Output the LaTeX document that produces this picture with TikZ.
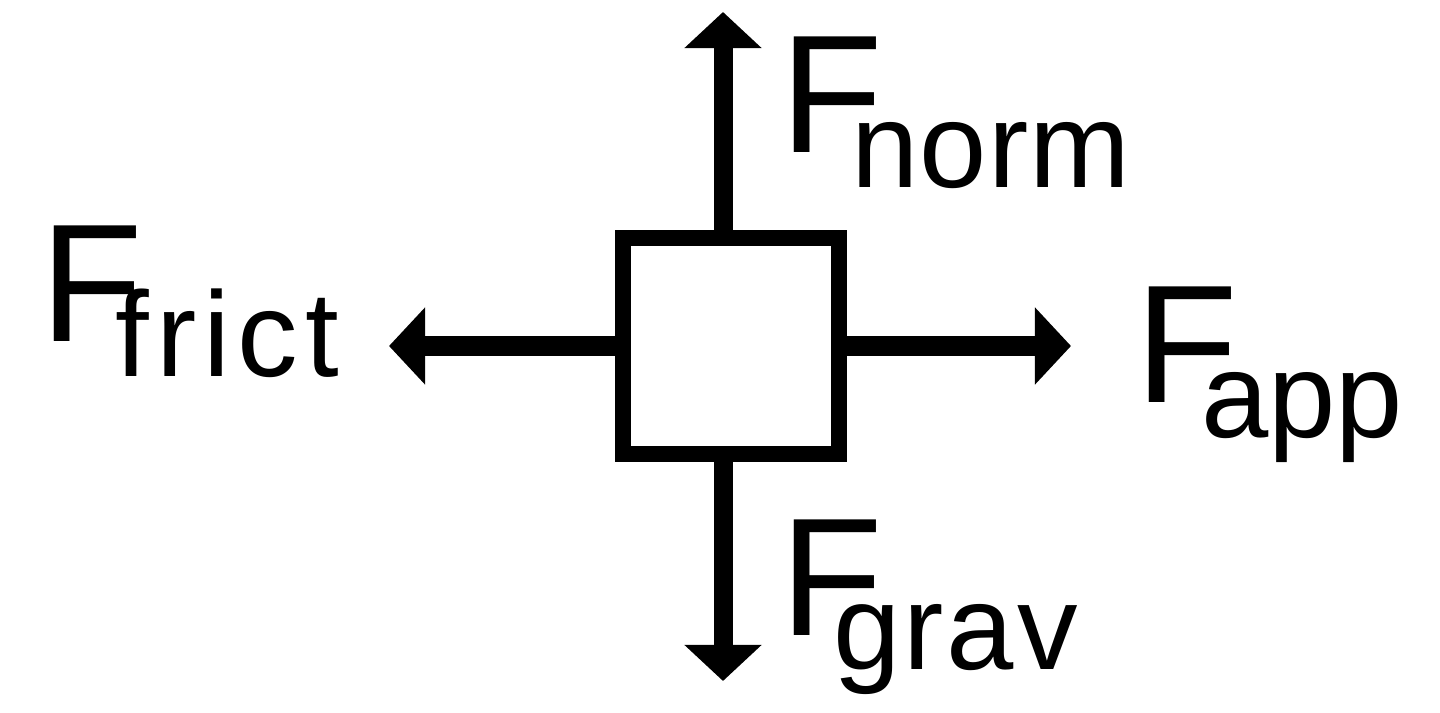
\documentclass[tikz,border=0pt]{standalone}
\usepackage{fontspec}
\setmainfont{Liberation Sans}
\usetikzlibrary{arrows.meta}
\newcommand{\flab}[3]{{\fontsize{47.8pt}{50pt}\selectfont F}\kern#1\raisebox{-0.34cm}{\fontsize{34.4pt}{36pt}\selectfont\addfontfeatures{LetterSpace=#2}#3}}
\begin{document}
\begin{tikzpicture}[x=0.01cm,y=-0.01cm,
  force/.style={line width=0.19cm,-{Triangle[width=0.75cm,length=0.36cm]}},
  body/.style={draw,line width=0.16cm,minimum size=2.16cm,inner sep=0pt},
  lbl/.style={anchor=base west,inner sep=0pt}]
\useasboundingbox (0,0) rectangle (1440,713);
\node[body] (box) at (731,346) {};
\coordinate (tn) at (723,12);
\coordinate (tg) at (723,681);
\coordinate (tf) at (389,346);
\coordinate (ta) at (1071,346);
\draw[force] (tn |- box.north) -- (tn);
\draw[force] (tg |- box.south) -- (tg);
\draw[force] (box.west) -- (tf);
\draw[force] (box.east) -- (ta);
\node[lbl] (ln) at (780,153) {\flab{-0.32cm}{1}{norm}};
\node[lbl] (lf) at (40,342) {\flab{-0.28cm}{6}{frict}};
\node[lbl] (la) at (1135,403) {\flab{-0.37cm}{0}{app}};
\node[lbl] (lg) at (780,635) {\flab{-0.50cm}{2.5}{grav}};
\end{tikzpicture}
\end{document}
